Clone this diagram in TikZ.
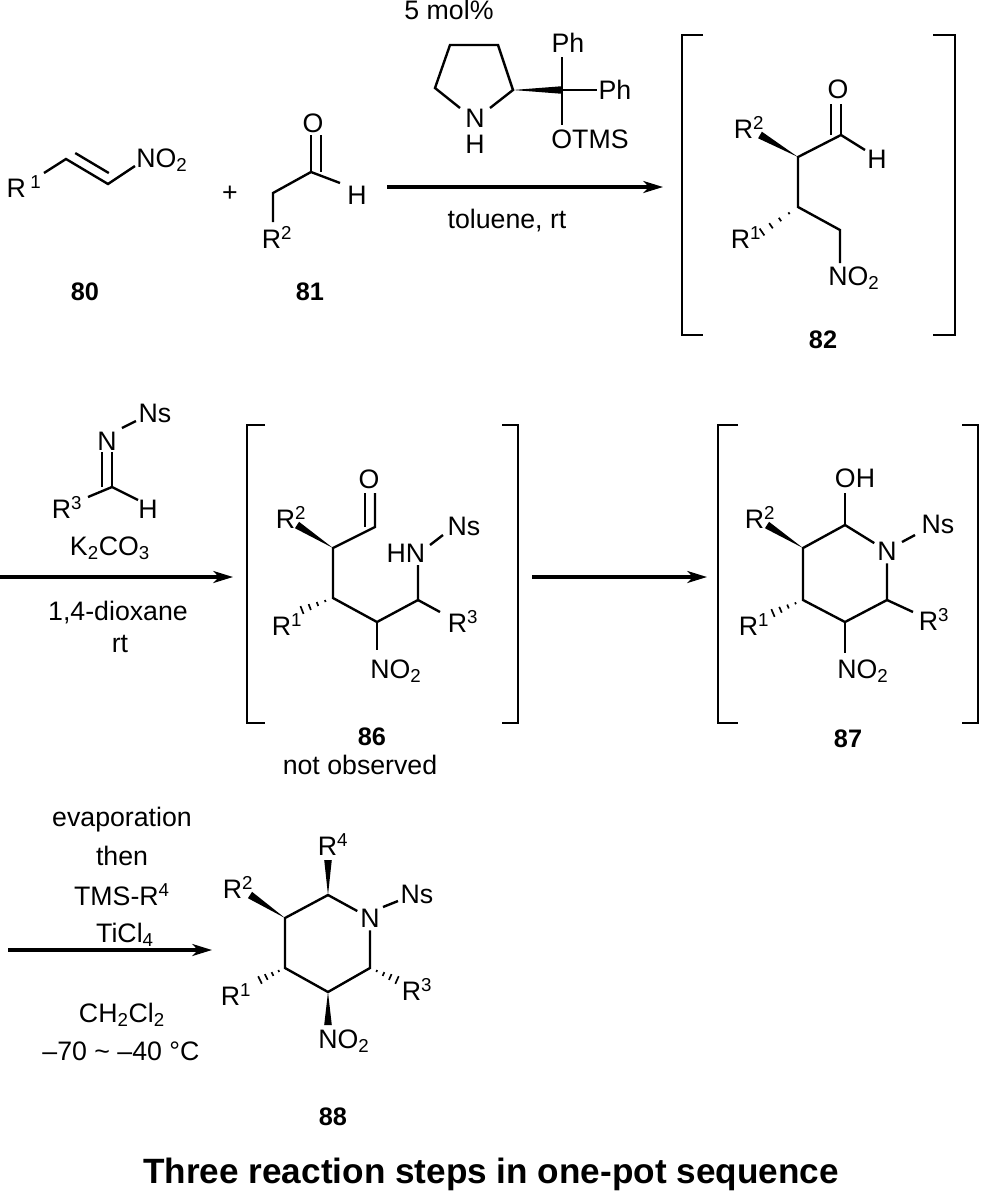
\documentclass[tikz,border=0pt]{standalone}
\usepackage{fontspec}
\setmainfont{Liberation Sans}
\usetikzlibrary{arrows.meta, calc}
\newcommand{\chemfont}{\fontsize{19}{22}\selectfont}
\newcommand{\cpdfont}{\fontsize{18}{21}\selectfont\bfseries}
\newcommand{\wedgebond}[2]{%
  \fill ($(#2)!2.7pt!90:(#1)$) -- (#1) -- ($(#2)!2.7pt!-90:(#1)$) -- cycle;}
\newcommand{\hashbond}[2]{%
  \foreach \t in {0.25,0.5,0.75,1}{
    \draw[line width=1.2pt] ($(#1)!\t!(#2)!{\t*3pt}!90:(#1)$) -- ($(#1)!\t!(#2)!{\t*3pt}!-90:(#1)$);}}
\newcommand{\dblbond}[4]{%
  \draw[bond] ($(#1)!#4!(#2)!7pt!#3:(#2)$) -- ($(#2)!#4!(#1)!7pt!-#3:(#1)$);}
\tikzset{
  atom/.style={font=\chemfont, inner sep=0pt, anchor=base},
  ringN/.style={font=\chemfont, inner sep=2pt},
  cond/.style={font=\chemfont, inner sep=0pt, anchor=base},
  cpdnum/.style={font=\cpdfont, inner sep=0pt, anchor=base},
  bond/.style={line width=1.7pt},
  bracket/.style={line width=1.6pt},
  rxnarrow/.style={line width=2.2pt, -{Stealth[length=14pt,width=8.5pt,inset=4pt]}}
}
\begin{document}
\begin{tikzpicture}[x=0.025cm, y=-0.025cm]
  %tikz  one-pot sequence, 80 + 81 -> 88
  \useasboundingbox (0,0) rectangle (981,1192);
  % nitroalkene 80
  \coordinate (na) at (44,173);
  \coordinate (nb) at (66,159);
  \coordinate (nc) at (108,184);
  \coordinate (nd) at (135,166);
  \draw[bond] (na) -- (nb) -- (nc) -- (nd);
  \dblbond{nb}{nc}{90}{0.1}
  \node[atom] (r1n) at (24,197) {R\,\textsuperscript{1}};
  \node[atom] (no2n) at (162,167) {NO\textsubscript{2}};
  \node[font=\chemfont] (plus) at (230,194) {+};
  % aldehyde 81
  \coordinate (ala) at (273,222);
  \coordinate (alb) at (273,193);
  \coordinate (alc) at (311,172);
  \coordinate (alo) at (311,135);
  \coordinate (alh) at (340,183);
  \draw[bond] (ala) -- (alb) -- (alc) -- (alh);
  \draw[bond] (alc) -- (alo);
  \dblbond{alc}{alo}{-90}{0}
  \node[atom] (oal) at (313,132) {O};
  \node[atom] (hal) at (357,204) {H};
  \node[atom] (r2al) at (277,248) {R\textsuperscript{2}};
  \node[cpdnum] (n80) at (85,300) {80};
  \node[cpdnum] (n81) at (310,300) {81};
  % catalyst
  \coordinate (ca) at (450,45);
  \coordinate (cb) at (498,45);
  \coordinate (cc) at (513,90);
  \coordinate (cd) at (490,108);
  \coordinate (ce) at (460,108);
  \coordinate (cf) at (435,88);
  \coordinate (cq) at (562,90);
  \coordinate (cu) at (562,57);
  \coordinate (cr) at (597,90);
  \coordinate (cl) at (562,125);
  \draw[bond] (cd) -- (cc) -- (cb) -- (ca) -- (cf) -- (ce);
  \wedgebond{cc}{cq}
  \draw[bond] (cu) -- (cq) -- (cl);
  \draw[bond] (cq) -- (cr);
  \node[cond] (mol) at (449,19) {5 mol\%};
  \node[atom] (ncat) at (475,127) {N};
  \node[atom] (hcat) at (475,153) {H};
  \node[atom] (ph1) at (568,52) {Ph};
  \node[atom] (ph2) at (615,99) {Ph};
  \node[atom] (otms) at (590,148) {OTMS};
  \coordinate (s1) at (387,187);
  \coordinate (e1) at (663,187);
  \draw[rxnarrow] (s1) -- (e1);
  \node[cond] (tol) at (507,228) {toluene, rt};
  % adduct 82
  \coordinate (ma) at (841,135);
  \coordinate (mo) at (841,104);
  \coordinate (mh) at (865,150);
  \coordinate (mb) at (798,157);
  \coordinate (mr2) at (760,135);
  \coordinate (mc) at (798,207);
  \coordinate (mr1) at (762,232);
  \coordinate (md) at (840,230);
  \coordinate (mn) at (840,263);
  \draw[bond] (mh) -- (ma) -- (mb) -- (mc) -- (md) -- (mn);
  \draw[bond] (ma) -- (mo);
  \dblbond{ma}{mo}{90}{0}
  \wedgebond{mb}{mr2}
  \hashbond{mc}{mr1}
  \node[atom] (om) at (838,98) {O};
  \node[atom] (hm) at (877,168) {H};
  \node[atom] (r2m) at (749,138) {R\textsuperscript{2}};
  \node[atom] (r1m) at (746,248) {R\textsuperscript{1}};
  \node[atom] (no2m) at (854,285) {NO\textsubscript{2}};
  \draw[bracket] (703,35) -| (682,335) -- (703,335);
  \draw[bracket] (933,35) -| (955,335) -- (933,335);
  \node[cpdnum] (n82) at (823,348) {82};
  % imine and second step
  \coordinate (s2) at (0,577);
  \coordinate (e2) at (233,577);
  \draw[rxnarrow] (s2) -- (e2);
  \coordinate (ic) at (112,487);
  \coordinate (in) at (112,452);
  \coordinate (ir) at (88,497);
  \coordinate (ih) at (138,500);
  \coordinate (is1) at (122,428);
  \coordinate (is2) at (136,421);
  \draw[bond] (ir) -- (ic) -- (ih);
  \draw[bond] (ic) -- (in);
  \dblbond{ic}{in}{90}{0}
  \draw[bond] (is1) -- (is2);
  \node[atom] (nsi) at (155,422) {Ns};
  \node[atom] (ni) at (107,450) {N};
  \node[atom] (hi) at (148,518) {H};
  \node[atom] (r3i) at (67,518) {R\textsuperscript{3}};
  \node[cond] (base) at (110,555) {K\textsubscript{2}CO\textsubscript{3}};
  \node[cond] (diox) at (118,620) {1,4-dioxane};
  \node[cond] (rt) at (120,652) {rt};
  % open chain 86
  \coordinate (fa) at (333,548);
  \coordinate (fr2) at (297,525);
  \coordinate (fc) at (375,527);
  \coordinate (fo) at (375,493);
  \coordinate (fb) at (333,598);
  \coordinate (fr1) at (302,610);
  \coordinate (fd) at (377,622);
  \coordinate (fn) at (377,650);
  \coordinate (fe) at (418,600);
  \coordinate (fh) at (418,565);
  \coordinate (fr3) at (440,612);
  \coordinate (fs1) at (430,545);
  \coordinate (fs2) at (443,535);
  \draw[bond] (fo) -- (fc) -- (fa) -- (fb) -- (fd) -- (fe) -- (fh);
  \draw[bond] (fd) -- (fn);
  \draw[bond] (fe) -- (fr3);
  \draw[bond] (fs1) -- (fs2);
  \dblbond{fc}{fo}{90}{0}
  \wedgebond{fa}{fr2}
  \hashbond{fb}{fr1}
  \node[atom] (r2f) at (291,528) {R\textsuperscript{2}};
  \node[atom] (of) at (369,488) {O};
  \node[atom] (hnf) at (406,562) {HN};
  \node[atom] (nsf) at (464,535) {Ns};
  \node[atom] (r1f) at (287,635) {R\textsuperscript{1}};
  \node[atom] (r3f) at (463,632) {R\textsuperscript{3}};
  \node[atom] (no2f) at (396,678) {NO\textsubscript{2}};
  \draw[bracket] (265,425) -| (247,723) -- (265,723);
  \draw[bracket] (502,425) -| (518,723) -- (502,723);
  \node[cpdnum] (n86) at (372,745) {86};
  \node[cond] (nobs) at (360,774) {not observed};
  % hemiaminal 87
  \coordinate (s3) at (532,577);
  \coordinate (e3) at (707,577);
  \draw[rxnarrow] (s3) -- (e3);
  \node[ringN] (nk) at (887,551) {N};
  \coordinate (ka) at (845,525);
  \coordinate (kb) at (803,548);
  \coordinate (kc) at (803,600);
  \coordinate (kd) at (845,622);
  \coordinate (ke) at (887,600);
  \coordinate (koh) at (845,493);
  \coordinate (kr2) at (767,525);
  \coordinate (kr1) at (773,613);
  \coordinate (kr3) at (913,612);
  \coordinate (kno) at (845,653);
  \coordinate (ks1) at (902,542);
  \coordinate (ks2) at (915,535);
  \draw[bond] (nk) -- (ka) -- (kb) -- (kc) -- (kd) -- (ke) -- (nk);
  \draw[bond] (ka) -- (koh);
  \draw[bond] (ke) -- (kr3);
  \draw[bond] (kd) -- (kno);
  \draw[bond] (ks1) -- (ks2);
  \wedgebond{kb}{kr2}
  \hashbond{kc}{kr1}
  \node[atom] (ohk) at (855,487) {OH};
  \node[atom] (r2k) at (760,528) {R\textsuperscript{2}};
  \node[atom] (nsk) at (938,533) {Ns};
  \node[atom] (r1k) at (754,635) {R\textsuperscript{1}};
  \node[atom] (r3k) at (934,630) {R\textsuperscript{3}};
  \node[atom] (no2k) at (863,678) {NO\textsubscript{2}};
  \draw[bracket] (738,425) -| (718,723) -- (738,723);
  \draw[bracket] (962,425) -| (978,723) -- (962,723);
  \node[cpdnum] (n87) at (848,747) {87};
  % piperidine 88
  \coordinate (s4) at (8,950);
  \coordinate (e4) at (212,950);
  \draw[rxnarrow] (s4) -- (e4);
  \node[cond] (evap) at (122,826) {evaporation};
  \node[cond] (then) at (122,865) {then};
  \node[cond] (tmsr) at (122,905) {TMS-R\textsuperscript{4}};
  \node[cond] (ticl) at (125,942) {TiCl\textsubscript{4}};
  \node[cond] (dcm) at (122,1022) {CH\textsubscript{2}Cl\textsubscript{2}};
  \node[cond] (temp) at (121,1060) {–70 \textasciitilde{} –40 °C};
  \node[ringN] (np) at (370,918) {N};
  \coordinate (pa) at (328,895);
  \coordinate (pb) at (285,918);
  \coordinate (pc) at (285,968);
  \coordinate (pd) at (328,992);
  \coordinate (pe) at (370,968);
  \coordinate (pr4) at (328,860);
  \coordinate (pr2) at (250,895);
  \coordinate (pr1) at (260,980);
  \coordinate (pr3) at (397,980);
  \coordinate (pno) at (328,1025);
  \coordinate (ps1) at (383,907);
  \coordinate (ps2) at (398,901);
  \draw[bond] (np) -- (pa) -- (pb) -- (pc) -- (pd) -- (pe) -- (np);
  \draw[bond] (ps1) -- (ps2);
  \wedgebond{pa}{pr4}
  \wedgebond{pb}{pr2}
  \hashbond{pc}{pr1}
  \hashbond{pe}{pr3}
  \wedgebond{pd}{pno}
  \node[atom] (r4p) at (333,855) {R\textsuperscript{4}};
  \node[atom] (r2p) at (238,898) {R\textsuperscript{2}};
  \node[atom] (nsp) at (417,903) {Ns};
  \node[atom] (r1p) at (236,1005) {R\textsuperscript{1}};
  \node[atom] (r3p) at (417,1000) {R\textsuperscript{3}};
  \node[atom] (no2p) at (344,1048) {NO\textsubscript{2}};
  \node[cpdnum] (n88) at (333,1125) {88};
  \node[font=\fontsize{25}{29}\selectfont\bfseries, anchor=base] (title) at (491,1183)
    {Three reaction steps in one-pot sequence};
\end{tikzpicture}
\end{document}
